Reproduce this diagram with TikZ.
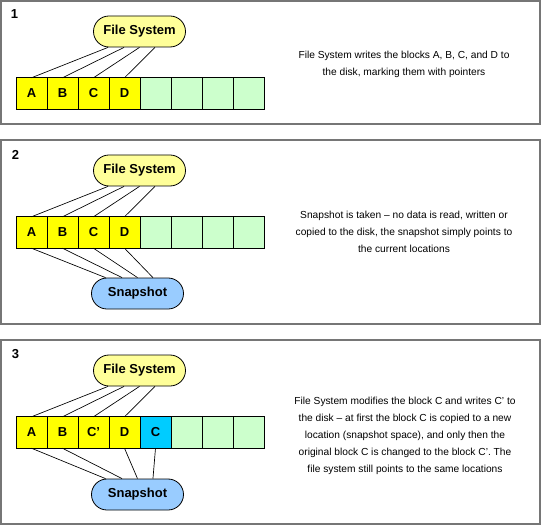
\documentclass[tikz,border=0pt]{standalone}
\usepackage{fontspec}
\setmainfont{Liberation Sans}
\usepackage{xcolor}
\usepackage{tikz}
\usetikzlibrary{positioning}

\definecolor{blockyellow}{HTML}{FFFF00}
\definecolor{freegreen}{HTML}{CCFFCC}
\definecolor{copycyan}{HTML}{00CCFF}
\definecolor{fsyellow}{HTML}{FFFF99}
\definecolor{snapblue}{HTML}{99CCFF}
\definecolor{framegray}{HTML}{767676}

\begin{document}
\begin{tikzpicture}[
x=0.75pt, y=-0.75pt,
frame/.style={
	draw=framegray,
	line width=1.3pt
},
blk/.style={
	rectangle,
	draw,
	line width=0.6pt,
	fill=blockyellow,
	minimum width=23.25pt,
	minimum height=23.6pt,
	inner sep=0pt,
	outer sep=0pt,
	font=\fontsize{9.75}{11}\selectfont\bfseries
},
free/.style={blk, fill=freegreen},
copyblk/.style={blk, fill=copycyan},
pill/.style={
	rectangle,
	rounded corners=11.6pt,
	draw,
	line width=0.6pt,
	minimum width=69pt,
	minimum height=23.25pt,
	inner sep=0pt,
	font=\fontsize{9.75}{11}\selectfont\bfseries
},
fsys/.style={pill, fill=fsyellow},
snap/.style={pill, fill=snapblue},
num/.style={font=\fontsize{9.75}{11}\selectfont\bfseries, inner sep=0pt},
note/.style={
	align=center,
	inner sep=0pt,
	font=\fontsize{7.65}{12.8}\selectfont
},
ptr/.style={line width=0.5pt}
]
\useasboundingbox (0,0) rectangle (542,527);

\draw[frame] (1,1) rectangle (540,124);
\draw[frame] (1,140) rectangle (540,324);
\draw[frame] (1,340) rectangle (540,524);

\begin{scope}[shift={(0,1)}]
\node[num] (n1) at (14.5,13.5) {1};
\node[fsys] (fs1) at (139.5,30.5) {File System};
\node[blk] (a1) at (31.5,92.5) {A};
\node[blk, right=0pt of a1] (b1) {B};
\node[blk, right=0pt of b1] (c1) {C};
\node[blk, right=0pt of c1] (d1) {D};
\node[free, right=0pt of d1] (e1) {};
\node[free, right=0pt of e1] (f1) {};
\node[free, right=0pt of f1] (g1) {};
\node[free, right=0pt of g1] (h1) {};
\node[note] (note1) at (404,63) {
	File System writes the blocks A, B, C, and D to\\
	the disk, marking them with pointers
};
\draw[ptr] (a1.north) -- ([xshift=-23.6pt]fs1.south);
\draw[ptr] (b1.north) -- ([xshift=-11.6pt]fs1.south);
\draw[ptr] (c1.north) -- (fs1.south);
\draw[ptr] (d1.north) -- ([xshift=11.6pt]fs1.south);
\end{scope}

\begin{scope}[shift={(0,140)}]
\node[num] (n2) at (15.5,14.5) {2};
\node[fsys] (fs2) at (139.5,30.5) {File System};
\node[blk] (a2) at (31.5,92.5) {A};
\node[blk, right=0pt of a2] (b2) {B};
\node[blk, right=0pt of b2] (c2) {C};
\node[blk, right=0pt of c2] (d2) {D};
\node[free, right=0pt of d2] (e2) {};
\node[free, right=0pt of e2] (f2) {};
\node[free, right=0pt of f2] (g2) {};
\node[free, right=0pt of g2] (h2) {};
\node[snap] (snap2) at (137.5,153.5) {Snapshot};
\node[note] (note2) at (404,91.5) {
	Snapshot is taken -- no data is read, written or\\
	copied to the disk, the snapshot simply points to\\
	the current locations
};
\draw[ptr] (a2.north) -- ([xshift=-23.6pt]fs2.south);
\draw[ptr] (b2.north) -- ([xshift=-11.6pt]fs2.south);
\draw[ptr] (c2.north) -- (fs2.south);
\draw[ptr] (d2.north) -- ([xshift=11.6pt]fs2.south);
\draw[ptr] (a2.south) -- ([xshift=-24pt]snap2.north);
\draw[ptr] (b2.south) -- ([xshift=-11.6pt]snap2.north);
\draw[ptr] (c2.south) -- (snap2.north);
\draw[ptr] (d2.south) -- ([xshift=11.6pt]snap2.north);
\end{scope}

\begin{scope}[shift={(0,340)}]
\node[num] (n3) at (15.5,14.5) {3};
\node[fsys] (fs3) at (139.5,30.5) {File System};
\node[blk] (a3) at (31.5,92.5) {A};
\node[blk, right=0pt of a3] (b3) {B};
\node[blk, right=0pt of b3] (c3) {C’};
\node[blk, right=0pt of c3] (d3) {D};
\node[copyblk, right=0pt of d3] (e3) {C};
\node[free, right=0pt of e3] (f3) {};
\node[free, right=0pt of f3] (g3) {};
\node[free, right=0pt of g3] (h3) {};
\node[snap] (snap3) at (137.5,154.5) {Snapshot};
\node[note] (note3) at (405,95.5) {
	File System modifies the block C and writes C’ to\\
	the disk -- at first the block C is copied to a new\\
	location (snapshot space), and only then the\\
	original block C is changed to the block C’. The\\
	file system still points to the same locations
};
\draw[ptr] (a3.north) -- ([xshift=-23.6pt]fs3.south);
\draw[ptr] (b3.north) -- ([xshift=-11.6pt]fs3.south);
\draw[ptr] (c3.north) -- (fs3.south);
\draw[ptr] (d3.north) -- ([xshift=11.6pt]fs3.south);
\draw[ptr] (a3.south) -- ([xshift=-24pt]snap3.north);
\draw[ptr] (b3.south) -- ([xshift=-11.6pt]snap3.north);
\draw[ptr] (d3.south) -- (snap3.north);
\draw[ptr] (e3.south) -- ([xshift=11.6pt]snap3.north);
\end{scope}

\end{tikzpicture}
\end{document}
